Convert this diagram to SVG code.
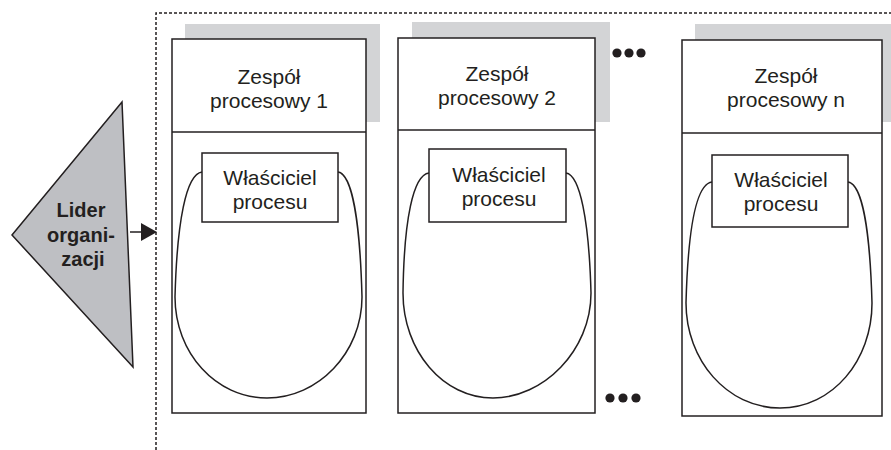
<svg xmlns="http://www.w3.org/2000/svg" width="891" height="450" viewBox="0 0 891 450">
  <defs>
    <style>
      .bg { fill: #ffffff; }
      .shadow { fill: #d3d4d6; stroke: none; }
      .box { fill: #ffffff; stroke: #231f20; stroke-width: 1.5; }
      .rule { stroke: #231f20; stroke-width: 1.5; fill: none; }
      .loop { fill: none; stroke: #231f20; stroke-width: 1.5; }
      .owner { fill: #ffffff; stroke: #231f20; stroke-width: 1.5; }
      .frame { fill: none; stroke: #231f20; stroke-width: 1.5; stroke-dasharray: 3 2; }
      .leader { fill: #bebfc3; stroke: #231f20; stroke-width: 1.5; stroke-linejoin: miter; }
      .lbl { font-family: "Liberation Sans", Arial, sans-serif; font-size: 21px; fill: #231f20; text-anchor: middle; }
      .lead { font-family: "Liberation Sans", Arial, sans-serif; font-size: 20px; font-weight: bold; fill: #231f20; text-anchor: middle; }
      .dot { fill: #231f20; }
    </style>
  </defs>

  <rect class="bg" x="0" y="0" width="891" height="450"/>

  <!-- organisation frame (dotted) -->
  <path class="frame" d="M156,450 V13 H891"/>

  <!-- leader -->
  <g id="leader">
    <polygon class="leader" points="122,102 12,235 133,367"/>
    <text class="lead" x="81" y="217">Lider</text>
    <text class="lead" x="81" y="242">organi-</text>
    <text class="lead" x="83" y="266">zacji</text>
  </g>

  <!-- connectors -->
  <g id="connectors">
    <line class="rule" x1="130" y1="232" x2="142" y2="232"/>
    <polygon fill="#231f20" points="141,223 157,232 141,241"/>
  </g>

  <!-- process team 1 -->
  <g id="team1">
    <rect class="shadow" x="185" y="24" width="195" height="98"/>
    <rect class="box" x="172" y="39" width="194" height="374"/>
    <line class="rule" x1="172" y1="132" x2="366" y2="132"/>
    <text class="lbl" x="269" y="84">Zespół</text>
    <text class="lbl" x="269" y="108">procesowy 1</text>
    <path class="loop" d="M202,172 C186,174 177,222 175,297 C175,353 216,398 267,398 C318,398 362,353 362,297 C360,222 352,174 338,172"/>
    <rect class="owner" x="202" y="153" width="136" height="69"/>
    <text class="lbl" x="270" y="185">Właściciel</text>
    <text class="lbl" x="270" y="209">procesu</text>
  </g>

  <!-- process team 2 -->
  <g id="team2">
    <rect class="shadow" x="412" y="22" width="198" height="100"/>
    <rect class="box" x="398" y="38" width="197" height="375"/>
    <line class="rule" x1="398" y1="130" x2="595" y2="130"/>
    <text class="lbl" x="497" y="81">Zespół</text>
    <text class="lbl" x="497" y="105">procesowy 2</text>
    <path class="loop" d="M429,173 C413,175 404,220 403,293 C403,351 443,398 493,398 C543,398 591,351 591,293 C589,220 580,175 566,173"/>
    <rect class="owner" x="429" y="149" width="137" height="73"/>
    <text class="lbl" x="499" y="182">Właściciel</text>
    <text class="lbl" x="499" y="206">procesu</text>
  </g>

  <!-- continuation marks -->
  <g id="more-top">
    <circle class="dot" cx="617" cy="53" r="4.6"/>
    <circle class="dot" cx="629" cy="53" r="4.6"/>
    <circle class="dot" cx="641" cy="53" r="4.6"/>
  </g>
  <g id="more-bottom">
    <circle class="dot" cx="610" cy="398" r="4.6"/>
    <circle class="dot" cx="623" cy="398" r="4.6"/>
    <circle class="dot" cx="636" cy="398" r="4.6"/>
  </g>

  <!-- process team n -->
  <g id="teamN">
    <rect class="shadow" x="695" y="24" width="196" height="98"/>
    <rect class="box" x="682" y="40" width="200" height="376"/>
    <line class="rule" x1="682" y1="133" x2="882" y2="133"/>
    <text class="lbl" x="786" y="83">Zespół</text>
    <text class="lbl" x="786" y="107">procesowy n</text>
    <path class="loop" d="M712,182 C696,184 688,230 686,303 C686,360 727,408 780,408 C833,408 872,360 872,303 C870,230 862,184 848,182"/>
    <rect class="owner" x="712" y="155" width="136" height="72"/>
    <text class="lbl" x="781" y="187">Właściciel</text>
    <text class="lbl" x="781" y="211">procesu</text>
  </g>
</svg>
